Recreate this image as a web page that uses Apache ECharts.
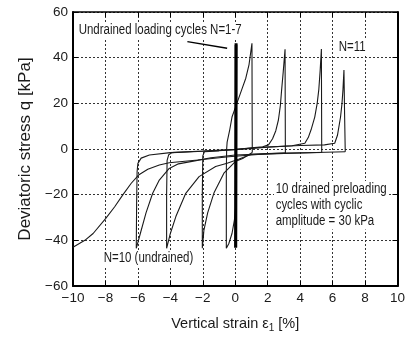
<!DOCTYPE html>
<html>
<head>
<meta charset="utf-8">
<script src="https://cdn.jsdelivr.net/npm/echarts@6/dist/echarts.min.js"></script>
<style>
  html, body { margin: 0; padding: 0; background: #fff; }
  #chart { width: 408px; height: 338px; }
</style>
</head>
<body>
<div id="chart"></div>
<script>
// Axis ticks
const strainTicks = [-10, -8, -6, -4, -2, 0, 2, 4, 6, 8, 10];
const stressTicks = [-60, -40, -20, 0, 20, 40, 60];

// Undrained loading cycles N=1-7 (strain stays near zero)
const cyclesN1to7 = [
  [0.02, -43.0], [0.05, 46.3], [0.03, -42.8], [0.06, 45.8], [0.02, -43.2],
  [0.05, 46.0], [0.03, -42.9], [0.04, 45.5], [0.02, -42.6], [0.05, 45.9],
  [0.03, -43.1], [0.05, 46.2], [0.03, -25.0]
];

// Cycle 8
const cycle8 = [
  [0.03, -25.0], [-0.05, -31.0], [-0.2, -37.0], [-0.4, -41.5], [-0.55, -43.5],
  [-0.55, -30.0], [-0.55, -10.0], [-0.53, 0.0],
  [-0.5, 3.0], [-0.35, 8.0], [-0.2, 14.0], [0.1, 20.0], [0.4, 26.0], [0.65, 31.0],
  [0.85, 37.0], [1.03, 46.3],
  [1.04, 20.0], [1.05, -1.5]
];

// Cycle 9
const cycle9 = [
  [1.05, -1.5], [0.5, -4.0], [0.0, -5.5], [-0.3, -7.7], [-0.7, -10.6], [-1.3, -19.0],
  [-1.7, -28.0], [-1.93, -35.5], [-2.03, -43.5],
  [-2.03, -20.0], [-2.0, -3.0], [-1.9, -1.2], [-1.0, -0.8], [0.0, -0.2], [1.0, 0.5],
  [1.7, 1.0], [2.05, 1.8],
  [2.3, 4.5], [2.5, 8.0], [2.66, 12.7], [2.78, 19.0], [2.86, 26.0], [2.96, 34.0], [3.07, 43.7],
  [3.08, 20.0], [3.09, -1.8]
];

// Cycle 10
const cycle10 = [
  [3.09, -1.8], [2.0, -2.0], [1.0, -2.3], [0.2, -4.5], [-0.5, -6.2], [-1.21, -7.7],
  [-2.23, -12.1], [-3.05, -19.4], [-3.66, -29.6], [-4.0, -37.0], [-4.23, -43.5],
  [-4.23, -20.0], [-4.2, -5.0], [-4.1, -2.5], [-3.9, -1.6], [-2.0, -1.0], [0.0, -0.3],
  [2.0, 0.8], [3.5, 1.4], [4.29, 2.5],
  [4.5, 5.0], [4.7, 9.0], [4.9, 14.0], [5.05, 20.0], [5.15, 26.0], [5.23, 34.0], [5.31, 43.8],
  [5.32, 20.0], [5.33, -1.5]
];

// Cycle 11
const cycle11 = [
  [5.33, -1.5], [3.0, -1.8], [0.0, -2.6], [-1.5, -3.8], [-2.5, -5.2], [-3.5, -6.5],
  [-4.07, -8.5], [-4.68, -13.6], [-5.09, -19.4], [-5.5, -28.0], [-5.85, -37.0], [-6.1, -43.5],
  [-6.08, -25.0], [-6.05, -10.0], [-6.0, -6.3], [-5.8, -4.0], [-5.29, -2.6], [-4.0, -1.6],
  [-2.0, -0.9], [0.0, -0.1], [2.0, 0.9], [4.0, 1.5], [5.5, 1.8], [6.13, 2.5],
  [6.3, 6.0], [6.49, 14.0], [6.58, 20.0], [6.64, 26.0], [6.7, 34.6],
  [6.74, 15.0], [6.78, -1.2]
];

// Final extension branch
const finalBranch = [
  [6.78, -1.2], [5.0, -1.5], [3.0, -2.0], [1.4, -2.4], [-0.4, -3.4], [-2.3, -4.8],
  [-4.07, -6.0], [-4.68, -7.0], [-5.39, -8.9], [-5.96, -11.4], [-6.41, -15.0],
  [-6.92, -20.0], [-7.43, -25.3], [-7.98, -30.4], [-8.76, -37.0], [-9.27, -40.0], [-10.0, -43.0]
];

// Arrow pointing at the undrained cycles
const arrowFrom = [-2.95, 47.0];
const arrowTo = [-0.5, 44.1];

const noteFont = "14px 'Liberation Sans', Arial, sans-serif";
const tickFont = "'Liberation Sans', Arial, sans-serif";

const minusFmt = v => (v < 0 ? '\u2212' + Math.abs(v) : String(v));

const thinStyle = { color: '#1a1a1a', width: 1.1 };

function thinSeries(name, data) {
  return {
    name, type: 'line', data, showSymbol: false, symbol: 'none',
    lineStyle: thinStyle, silent: true, animation: false, z: 3
  };
}

// Condensed annotation text (horizontally squeezed regular sans) on a white patch
function note(x, y, text) {
  return {
    type: 'text', x, y, scaleX: 0.82, scaleY: 1, originX: 0, originY: 0, z: 10,
    style: {
      text, font: noteFont, lineHeight: 16.2, fill: '#1a1a1a',
      backgroundColor: '#fff', padding: [0, 2, 0, 2]
    }
  };
}

const chart = echarts.init(document.getElementById('chart'), null, { renderer: 'canvas' });

chart.setOption({
  animation: false,
  backgroundColor: '#fff',
  grid: { left: 73, right: 8, top: 12, bottom: 52, containLabel: false },
  xAxis: [{
    type: 'value', min: strainTicks[0], max: strainTicks[strainTicks.length - 1], interval: 2,
    name: 'Vertical strain \u03b5{sub|1} [%]',
    nameLocation: 'middle', nameGap: 29,
    nameTextStyle: {
      fontFamily: tickFont, fontSize: 14.5, color: '#1a1a1a',
      rich: { sub: { fontFamily: tickFont, fontSize: 10, verticalAlign: 'bottom', padding: [8, 0, 0, 0] } }
    },
    axisLine: { onZero: false, lineStyle: { color: '#000', width: 2.2 } },
    axisTick: { inside: true, length: 5, lineStyle: { color: '#000', width: 1 } },
    axisLabel: { formatter: minusFmt, fontFamily: tickFont, fontSize: 13.5, color: '#1a1a1a', margin: 5 },
    splitLine: { show: true, lineStyle: { color: '#333', width: 1, type: [2, 2] } }
  }, {
    type: 'value', position: 'top', min: strainTicks[0], max: strainTicks[strainTicks.length - 1], interval: 2,
    axisLine: { onZero: false, lineStyle: { color: '#000', width: 1.5 } },
    axisTick: { inside: true, length: 5, lineStyle: { color: '#000', width: 1 } },
    axisLabel: { show: false }, splitLine: { show: false }
  }],
  yAxis: [{
    type: 'value', min: stressTicks[0], max: stressTicks[stressTicks.length - 1], interval: 20,
    name: 'Deviatoric stress q [kPa]',
    nameLocation: 'middle', nameGap: 37, nameRotate: 90,
    nameTextStyle: { fontFamily: tickFont, fontSize: 17, color: '#1a1a1a' },
    axisLine: { onZero: false, lineStyle: { color: '#000', width: 2 } },
    axisTick: { inside: true, length: 5, lineStyle: { color: '#000', width: 1 } },
    axisLabel: { formatter: minusFmt, fontFamily: tickFont, fontSize: 13.5, color: '#1a1a1a', margin: 5 },
    splitLine: { show: true, lineStyle: { color: '#333', width: 1, type: [2, 2] } }
  }, {
    type: 'value', position: 'right', min: stressTicks[0], max: stressTicks[stressTicks.length - 1], interval: 20,
    axisLine: { onZero: false, lineStyle: { color: '#000', width: 2 } },
    axisTick: { inside: true, length: 5, lineStyle: { color: '#000', width: 1 } },
    axisLabel: { show: false }, splitLine: { show: false }
  }],
  series: [
    {
      name: 'N=1-7', type: 'line', data: cyclesN1to7, showSymbol: false, symbol: 'none',
      lineStyle: { color: '#000', width: 3 }, silent: true, z: 4,
      markLine: {
        silent: true, symbol: ['none', 'arrow'], symbolSize: [0, 9],
        lineStyle: { color: '#000', width: 1.4, type: 'solid' },
        label: { show: false },
        data: [[{ coord: arrowFrom }, { coord: arrowTo }]]
      }
    },
    thinSeries('N=8', cycle8),
    thinSeries('N=9', cycle9),
    thinSeries('N=10', cycle10),
    thinSeries('N=11', cycle11),
    thinSeries('final', finalBranch)
  ],
  graphic: [
    note(77, 22, 'Undrained loading cycles N=1-7'),
    note(337, 39, 'N=11'),
    note(102, 250, 'N=10 (undrained)'),
    note(274, 181, '10 drained preloading\ncycles with cyclic\namplitude = 30 kPa')
  ]
});
</script>
</body>
</html>
